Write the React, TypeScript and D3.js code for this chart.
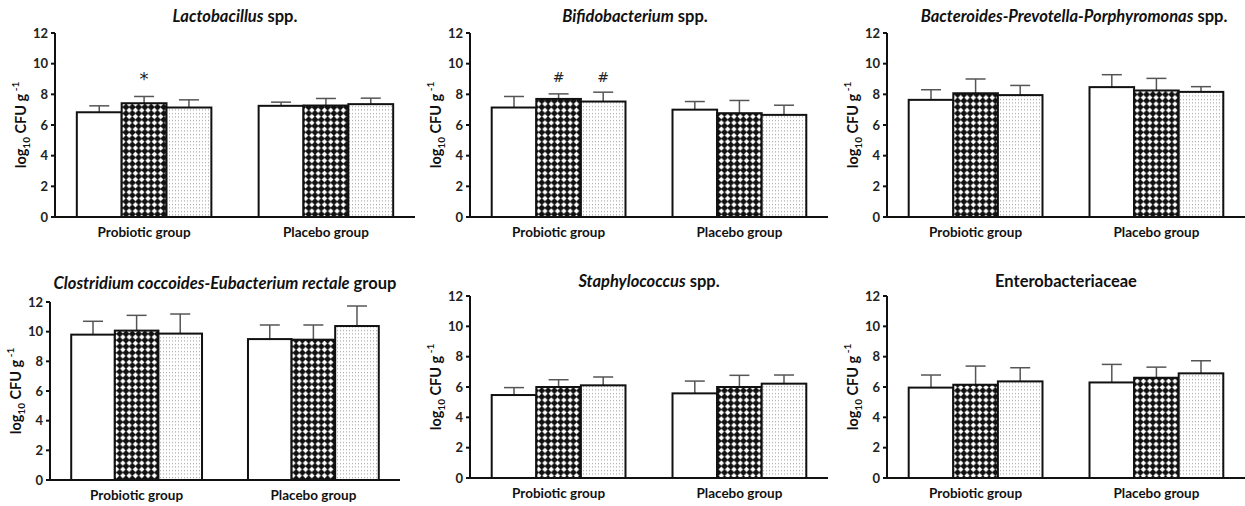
import * as d3 from "d3";

// groups on the x axis, three bars per group
const groups = ["Probiotic group", "Placebo group"];
const yTicks = [0, 2, 4, 6, 8, 10, 12];

// means [probiotic, placebo] x [bar1, bar2, bar3], log10 CFU/g
const lactoMean = [[6.83, 7.42, 7.14], [7.25, 7.27, 7.36]];
const lactoErr = [[0.42, 0.44, 0.5], [0.24, 0.46, 0.39]];
const lactoMarks = [["", "*", ""], ["", "", ""]];

const bifidoMean = [[7.14, 7.7, 7.53], [7.0, 6.77, 6.66]];
const bifidoErr = [[0.72, 0.33, 0.61], [0.53, 0.83, 0.63]];
const bifidoMarks = [["", "#", "#"], ["", "", ""]];

const bacterMean = [[7.64, 8.07, 7.95], [8.47, 8.25, 8.16]];
const bacterErr = [[0.66, 0.93, 0.63], [0.81, 0.79, 0.34]];

const clostMean = [[9.8, 10.07, 9.87], [9.5, 9.46, 10.38]];
const clostErr = [[0.9, 1.03, 1.32], [0.95, 0.99, 1.35]];

const staphMean = [[5.47, 6.0, 6.11], [5.58, 6.0, 6.22]];
const staphErr = [[0.49, 0.48, 0.55], [0.81, 0.77, 0.57]];

const enteroMean = [[5.96, 6.15, 6.37], [6.3, 6.61, 6.9]];
const enteroErr = [[0.83, 1.23, 0.9], [1.19, 0.7, 0.83]];

const noMarks = [["", "", ""], ["", "", ""]];

const panels = [
  { italic: "Lactobacillus", plain: " spp.", mean: lactoMean, err: lactoErr, marks: lactoMarks,
    x0: 55, x1: 415, top: 33, bottom: 217, titleY: 22, labelY: 237 },
  { italic: "Bifidobacterium", plain: " spp.", mean: bifidoMean, err: bifidoErr, marks: bifidoMarks,
    x0: 470, x1: 828, top: 33, bottom: 217, titleY: 22, labelY: 237, dx: -14 },
  { italic: "Bacteroides-Prevotella-Porphyromonas", plain: "  spp.", mean: bacterMean, err: bacterErr, marks: noMarks,
    x0: 887, x1: 1245, top: 33, bottom: 217, titleY: 22, labelY: 237, dx: 8 },
  { italic: "Clostridium coccoides-Eubacterium rectale", plain: " group", mean: clostMean, err: clostErr, marks: noMarks,
    x0: 50, x1: 400, top: 302, bottom: 480, titleY: 289, labelY: 500 },
  { italic: "Staphylococcus", plain: " spp.", mean: staphMean, err: staphErr, marks: noMarks,
    x0: 470, x1: 828, top: 296, bottom: 478, titleY: 287, labelY: 498 },
  { italic: "", plain: "Enterobacteriaceae", mean: enteroMean, err: enteroErr, marks: noMarks,
    x0: 887, x1: 1245, top: 296, bottom: 478, titleY: 287, labelY: 498 },
];

const fills = ["#ffffff", "url(#xhatch)", "url(#dots)"];
const FONT = "Lato, 'Open Sans', sans-serif";

function Panel({ p }) {
  const x = d3.scaleBand().domain(groups).range([p.x0, p.x1]).paddingInner(0.26).paddingOuter(0.12);
  const y = d3.scaleLinear().domain([0, 12]).range([p.bottom, p.top]);
  const inner = d3.scaleBand().domain(["0", "1", "2"]).range([0, x.bandwidth()]);
  const bw = inner.bandwidth();
  const midY = (p.top + p.bottom) / 2;

  return (
    <g>
      <text x={(p.x0 + p.x1) / 2 + (p.dx || 0)} y={p.titleY} textAnchor="middle"
        fontSize={16.5} fontWeight="bold" fill="#111" fontFamily={FONT}>
        {p.italic && <tspan fontStyle="italic">{p.italic}</tspan>}
        <tspan>{p.plain}</tspan>
      </text>

      {groups.map((g, gi) =>
        p.mean[gi].map((v, bi) => {
          const bx = x(g) + inner(String(bi));
          const cx = bx + bw / 2;
          const yTop = y(v);
          const yErr = y(v + p.err[gi][bi]);
          const mark = p.marks[gi][bi];
          return (
            <g key={g + bi}>
              <line x1={cx} x2={cx} y1={yTop} y2={yErr} stroke="#555" strokeWidth={1.5} />
              <line x1={cx - 10} x2={cx + 10} y1={yErr} y2={yErr} stroke="#555" strokeWidth={1.5} />
              <rect x={bx} y={yTop} width={bw} height={y(0) - yTop}
                fill={fills[bi]} stroke="#111" strokeWidth={2} />
              {mark && (
                <text x={cx} y={y(9.1) + (mark === "*" ? 8 : 5)} textAnchor="middle"
                  fontSize={mark === "*" ? 18 : 14} fill="#222" fontFamily="'DejaVu Sans', sans-serif">{mark}</text>
              )}
            </g>
          );
        })
      )}

      {/* axes */}
      <line x1={p.x0} x2={p.x0} y1={p.top} y2={p.bottom} stroke="#111" strokeWidth={2} />
      <line x1={p.x0 - 1} x2={p.x1} y1={p.bottom} y2={p.bottom} stroke="#111" strokeWidth={2} />
      {yTicks.map((t) => (
        <g key={t}>
          <line x1={p.x0 - 4} x2={p.x0} y1={y(t)} y2={y(t)} stroke="#111" strokeWidth={2} />
          <text x={p.x0 - 7} y={y(t) + 4.5} textAnchor="end" fontSize={13} fontWeight="bold"
            fill="#222" fontFamily={FONT}>{t}</text>
        </g>
      ))}
      {groups.map((g) => (
        <text key={g} x={x(g) + x.bandwidth() / 2} y={p.labelY} textAnchor="middle"
          fontSize={13.5} fontWeight="bold" fill="#111" fontFamily={FONT}>{g}</text>
      ))}

      <text transform={`translate(${p.x0 - 29},${midY}) rotate(-90)`} textAnchor="middle"
        fontSize={14.5} fontWeight="bold" fill="#111" fontFamily={FONT}>
        log<tspan fontSize={10} dy={4}>10</tspan>
        <tspan dy={-4}> CFU g</tspan>
        <tspan fontSize={10} dy={-7}> -1</tspan>
      </text>
    </g>
  );
}

export default function App() {
  return (
    <svg width={1245} height={506} style={{ position: "absolute", left: 0, top: 0, background: "#fff" }}>
      <defs>
        <pattern id="xhatch" width={6.3} height={6.3} patternUnits="userSpaceOnUse">
          <rect width={6.3} height={6.3} fill="#111" />
          <polygon points="3.15,0.45 5.85,3.15 3.15,5.85 0.45,3.15" fill="#fff" />
        </pattern>
        <pattern id="dots" width={3} height={3.5} patternUnits="userSpaceOnUse">
          <rect width={3} height={3.5} fill="#fff" />
          <rect x={1} y={1} width={1} height={1} fill="#999" />
        </pattern>
      </defs>
      <rect width={1245} height={506} fill="#fff" />
      {panels.map((p, i) => (
        <Panel key={i} p={p} />
      ))}
    </svg>
  );
}
